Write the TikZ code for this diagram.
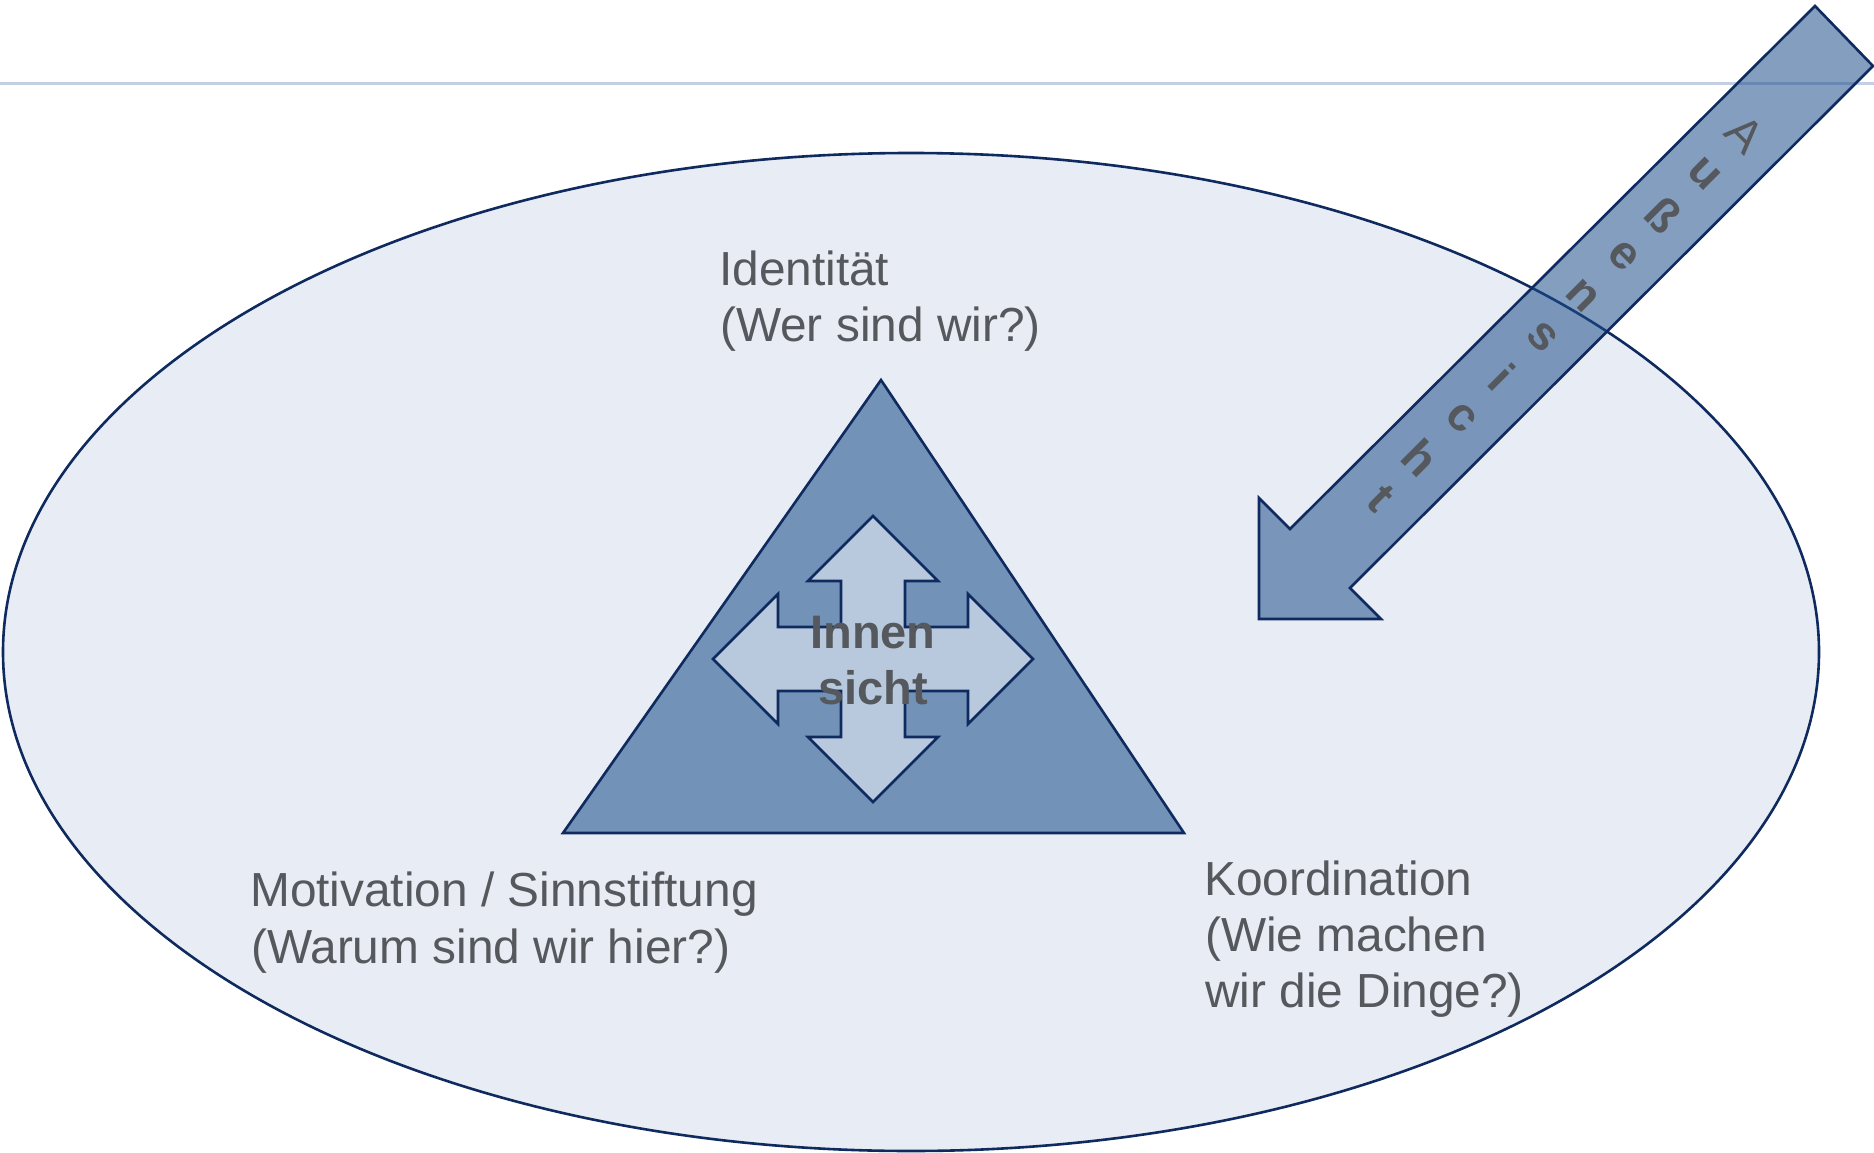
\documentclass[tikz,border=0pt]{standalone}
\usepackage{fontspec}
\setmainfont{Liberation Sans}
\definecolor{navy}{HTML}{0E2A5E}
\definecolor{ellfill}{HTML}{E8ECF4}
\definecolor{trifill}{HTML}{7292B8}
\definecolor{crossfill}{HTML}{B9C9DD}
\definecolor{arrowfill}{HTML}{1F4E8C}
\definecolor{txtgray}{HTML}{55585C}
\definecolor{rulecol}{HTML}{C3CFE4}
\begin{document}
\begin{tikzpicture}[x=1pt,y=-1pt,
  outline/.style={draw=navy,line width=2.6pt,line join=miter},
  lbl/.style={anchor=base west,inner sep=0pt,text=txtgray,font=\fontsize{47.8}{56}\selectfont},
  innertxt/.style={anchor=base,inner sep=0pt,text=txtgray,font=\bfseries\fontsize{47}{56}\selectfont},
  letter/.style={inner sep=0pt,text=txtgray,rotate=-45,font=\bfseries\fontsize{47}{50}\selectfont}]
\useasboundingbox (0,0) rectangle (1874,1153);
% top rule
\coordinate (ruleL) at (0,83.5);
\coordinate (ruleR) at (1874,83.5);
\draw[rulecol,line width=3pt] (ruleL) -- (ruleR);
% ellipse
\draw[outline,fill=ellfill] (911,652) ellipse [x radius=908pt, y radius=499pt];
% triangle
\draw[outline,fill=trifill] (881,380) -- (1184,833) -- (563,833) -- cycle;
% four-way arrow
\begin{scope}[shift={(873,659)}]
\draw[outline,fill=crossfill]
  (0,-143) -- (65,-78) -- (32,-78) -- (32,-32) -- (95,-32) -- (95,-65) -- (160,0)
  -- (95,65) -- (95,32) -- (32,32) -- (32,78) -- (65,78) -- (0,143)
  -- (-65,78) -- (-32,78) -- (-32,32) -- (-95,32) -- (-95,65) -- (-160,0)
  -- (-95,-65) -- (-95,-32) -- (-32,-32) -- (-32,-78) -- (-65,-78) -- cycle;
\end{scope}
\node[innertxt] (innen) at (873,648) {Innen};
\node[innertxt] (sicht) at (873,704) {sicht};
% labels
\node[lbl] (id1) at (719,285) {Identität};
\node[lbl] (id2) at (720,341.5) {(Wer sind wir?)};
\node[lbl] (mo1) at (250,906.5) {Motivation / Sinnstiftung};
\node[lbl] (mo2) at (251,963) {(Warum sind wir hier?)};
\node[lbl] (ko1) at (1204,895) {Koordination};
\node[lbl] (ko2) at (1205,951) {(Wie machen};
\node[lbl] (ko3) at (1205,1007) {wir die Dinge?)};
% outside-view arrow
\draw[outline,fill=arrowfill,fill opacity=0.55]
  (1815,6) -- (1873,66) -- (1350,588) -- (1381,619) -- (1259,619)
  -- (1259,498) -- (1290,529) -- cycle;
\node[letter,font=\fontsize{47}{50}\selectfont] (L1) at (1745,134) {A};
\foreach \ch [count=\i from 2] in {u,ß,e,n,s,i,c,h,t}
  \node[letter] (L\i) at ({1745-40.5*(\i-1)},{134+40.5*(\i-1)}) {\ch};
\end{tikzpicture}
\end{document}
